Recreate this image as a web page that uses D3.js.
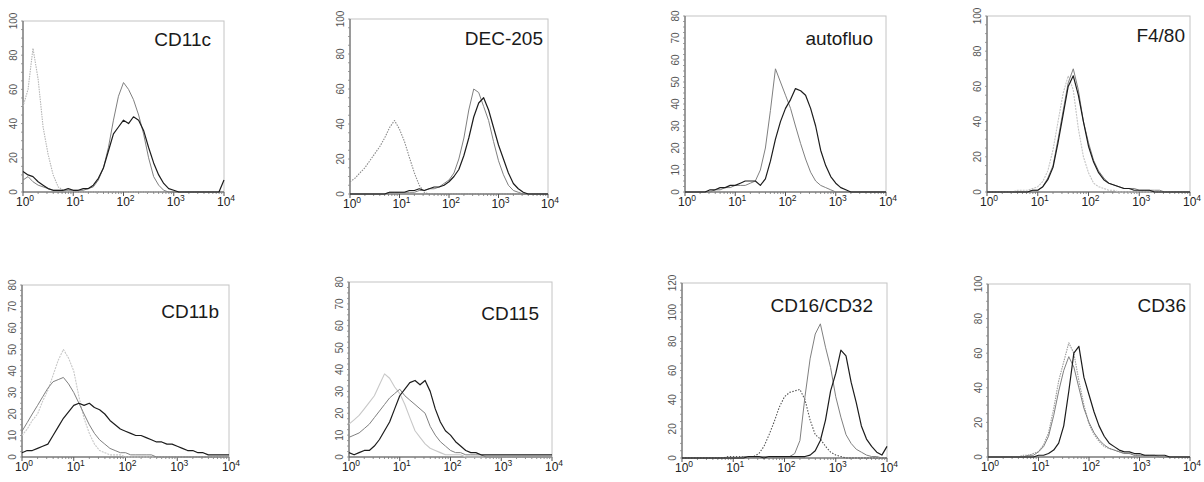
<!DOCTYPE html>
<html lang="en">
<head>
<meta charset="UTF-8">
<title>Flow cytometry histograms</title>
<script src="https://cdn.jsdelivr.net/npm/d3@7"></script>
<style>
  body { margin: 0; background: #fff; }
  svg { display: block; font-family: "Liberation Sans", Arial, sans-serif; }
</style>
</head>
<body>
<svg id="chart" width="1204" height="482"></svg>
<script>
// fluorescence channels, 10 per decade (10^0 .. 10^4)
var channels = [1, 1.26, 1.58, 2.00, 2.51, 3.16, 3.98, 5.01, 6.31, 7.94,
    10, 12.6, 15.8, 20.0, 25.1, 31.6, 39.8, 50.1, 63.1, 79.4,
    100, 126, 158, 200, 251, 316, 398, 501, 631, 794,
    1000, 1259, 1585, 1995, 2512, 3162, 3981, 5012, 6310, 7943, 10000];

var markers = ["CD11c", "DEC-205", "autofluo", "F4/80", "CD11b", "CD115", "CD16/CD32", "CD36"];
var yMax = [100, 100, 80, 100, 80, 80, 120, 100];
var yStep = [20, 20, 10, 20, 10, 10, 20, 20];
var xTickExp = [0, 1, 2, 3, 4];

// counts per channel: control (dotted/light), grey, black
var cd11cCtrl = [50,60,84,66,38,22,10,3,1,0, 0,0,0,0,0,0,0,0,0,0, 0,0,0,0,0,0,0,0,0,0, 0,0,0,0,0,0,0,0,0,0,0];
var cd11cGrey = [7,9,6,4,3,2,1,1,1,1, 1,1,1,2,3,7,14,26,42,56, 64,60,54,45,34,20,9,4,1,0, 0,0,0,0,0,0,0,0,0,0,0];
var cd11cDark = [12,10,9,6,4,2,1,1,1,2, 1,1,2,2,4,8,14,24,34,38, 42,40,44,42,36,26,17,10,5,2, 1,0,0,0,0,0,0,0,0,0,7];

var decCtrl = [7,9,12,15,19,23,27,32,38,42, 37,30,21,12,5,1,0,0,0,0, 0,0,0,0,0,0,0,0,0,0, 0,0,0,0,0,0,0,0,0,0,0];
var decGrey = [0,0,0,0,0,0,0,0,1,1, 1,1,1,1,2,2,3,3,4,6, 8,12,20,32,48,60,58,50,42,30, 19,11,5,2,1,0,0,0,0,0,0];
var decDark = [0,0,0,0,0,0,0,0,1,1, 1,1,2,2,3,2,3,4,4,5, 7,10,14,22,32,44,52,55,48,38, 28,20,12,6,3,1,0,0,0,0,0];

var autoGrey = [0,0,0,0,0,0,1,1,2,2, 3,3,3,4,5,10,20,37,56,50, 44,38,30,22,15,9,5,3,2,1, 0,0,0,0,0,0,0,0,0,0,0];
var autoDark = [0,0,0,0,0,1,1,2,2,3, 3,4,5,5,5,3,6,14,24,32, 38,42,47,46,44,38,30,19,12,7, 4,2,1,0,0,0,0,0,0,0,0];

var f480Ctrl = [0,0,0,0,0,0,1,1,1,2, 3,6,12,24,40,56,66,58,36,20, 11,5,3,2,1,1,0,0,0,0, 0,0,0,0,0,0,0,0,0,0,0];
var f480Grey = [0,0,0,0,0,0,0,0,0,1, 1,3,8,15,30,46,62,70,58,40, 28,18,12,8,5,4,3,2,2,2, 1,1,1,1,1,0,0,0,0,0,0];
var f480Dark = [0,0,0,0,0,0,0,0,0,1, 1,3,7,14,28,44,60,66,55,40, 26,17,11,7,5,4,3,2,2,1, 1,1,1,0,0,0,0,0,0,0,0];

var cd11bCtrl = [10,13,17,20,26,31,38,45,50,46, 40,28,18,11,6,3,2,1,1,1, 0,0,0,0,0,0,0,0,0,0, 0,0,0,0,0,0,0,0,0,0,0];
var cd11bGrey = [12,16,20,24,28,32,35,36,37,34, 30,25,20,15,11,8,6,4,3,2, 2,1,1,1,1,1,0,0,0,0, 0,0,0,0,0,0,0,0,0,0,0];
var cd11bDark = [2,3,3,4,5,6,10,14,18,21, 24,25,24,25,23,22,20,17,15,13, 12,11,10,10,9,8,7,7,6,6, 5,4,3,3,2,2,1,1,1,1,1];

var cd115Ctrl = [15,17,19,22,25,28,33,38,36,32, 29,24,18,12,9,6,4,3,2,1, 1,1,1,0,0,0,0,0,0,0, 0,0,0,0,0,0,0,0,0,0,0];
var cd115Grey = [9,10,11,13,15,18,21,24,27,29, 31,28,26,24,22,20,14,10,7,5, 3,2,2,1,1,1,1,0,0,0, 0,0,0,0,0,0,0,0,0,0,0];
var cd115Dark = [2,1,2,3,3,5,8,12,16,22, 28,31,34,35,33,35,30,22,16,12, 10,7,5,3,2,2,1,1,1,1, 1,1,1,1,1,1,1,1,1,1,1];

var cd16Ctrl = [0,0,0,0,0,0,0,0,0,1, 1,1,1,1,1,3,8,16,25,35, 42,45,46,47,40,26,16,13,8,4, 2,1,0,0,0,0,0,0,0,0,0];
var cd16Grey = [0,0,0,0,0,0,0,0,0,0, 0,0,1,1,1,1,1,1,1,1, 1,1,3,12,42,68,85,92,76,62, 42,28,16,10,6,4,2,1,1,0,0];
var cd16Dark = [0,0,0,0,0,0,0,0,0,0, 0,0,0,1,1,1,0,1,1,1, 1,1,1,1,1,2,5,12,26,46, 58,74,70,52,38,22,13,8,4,2,8];

var cd36Ctrl = [0,0,0,0,0,0,0,1,1,2, 3,7,14,28,44,55,66,60,44,30, 19,13,9,6,5,4,3,2,2,1, 1,1,0,0,0,0,0,0,0,0,0];
var cd36Grey = [0,0,0,0,0,0,0,0,1,1, 3,6,12,24,38,50,58,52,40,28, 20,14,10,7,5,4,3,2,2,1, 1,1,1,1,0,0,0,0,0,0,0];
var cd36Dark = [0,0,0,0,0,0,0,0,0,0, 1,1,2,4,8,18,38,60,64,46, 36,26,18,12,8,6,4,3,3,2, 2,1,1,1,1,1,0,0,0,0,0];

var panelSeries = [
    [cd11cCtrl, cd11cGrey, cd11cDark],
    [decCtrl, decGrey, decDark],
    [null, autoGrey, autoDark],
    [f480Ctrl, f480Grey, f480Dark],
    [cd11bCtrl, cd11bGrey, cd11bDark],
    [cd115Ctrl, cd115Grey, cd115Dark],
    [cd16Ctrl, cd16Grey, cd16Dark],
    [cd36Ctrl, cd36Grey, cd36Dark]
];

// plot boxes and title anchors (px)
var layout = [
    { l: 23, r: 224, t: 21, b: 192, tx: 211, ty: 46 },
    { l: 350, r: 548, t: 19, b: 194, tx: 543, ty: 45 },
    { l: 685, r: 886, t: 16, b: 192, tx: 873, ty: 45 },
    { l: 987, r: 1190, t: 16, b: 192, tx: 1185, ty: 42 },
    { l: 22, r: 229, t: 285, b: 457, tx: 219, ty: 318 },
    { l: 349, r: 552, t: 282, b: 457, tx: 539, ty: 320 },
    { l: 682, r: 887, t: 283, b: 458, tx: 873, ty: 312 },
    { l: 988, r: 1190, t: 284, b: 457, tx: 1186, ty: 312 }
];

// control curve colour per panel
var ctrlColor = ["#b5b5b5", "#8a8a8a", null, "#c4c4c4", "#c8c8c8", "#c8c8c8", "#555", "#9a9a9a"];
var ctrlDash = ["1.5,1", "1.5,1.2", null, "2,1", "2,1", null, "1.5,1.5", "1.5,1"];

var svg = d3.select("#chart");

panelSeries.forEach(function (series, i) {
    var box = layout[i];
    var x = d3.scaleLog().domain([1, 10000]).range([box.l, box.r]);
    var y = d3.scaleLinear().domain([0, yMax[i]]).range([box.b, box.t]);
    var g = svg.append("g");

    // frame
    g.append("rect")
        .attr("x", box.l).attr("y", box.t)
        .attr("width", box.r - box.l).attr("height", box.b - box.t)
        .attr("fill", "none").attr("stroke", "#c4c4c4").attr("stroke-width", 1);

    // x axis
    var xMinor = [];
    for (var e = 0; e < 4; e++) {
        for (var m = 2; m < 10; m++) xMinor.push(m * Math.pow(10, e));
    }
    g.append("line")
        .attr("x1", box.l).attr("x2", box.r).attr("y1", box.b).attr("y2", box.b)
        .attr("stroke", "#555").attr("stroke-width", 1);
    g.selectAll(".xmin").data(xMinor).enter().append("line")
        .attr("x1", function (d) { return x(d); }).attr("x2", function (d) { return x(d); })
        .attr("y1", box.b).attr("y2", box.b + 2)
        .attr("stroke", "#777").attr("stroke-width", 0.8);
    g.selectAll(".xmaj").data(xTickExp).enter().append("line")
        .attr("x1", function (d) { return x(Math.pow(10, d)); })
        .attr("x2", function (d) { return x(Math.pow(10, d)); })
        .attr("y1", box.b).attr("y2", box.b + 4)
        .attr("stroke", "#555").attr("stroke-width", 1);
    var xl = g.selectAll(".xlab").data(xTickExp).enter().append("text")
        .attr("x", function (d) { return x(Math.pow(10, d)) + 2; })
        .attr("y", box.b + 14)
        .attr("text-anchor", "middle")
        .attr("font-size", 12).attr("fill", "#222");
    xl.append("tspan").text("10");
    xl.append("tspan").attr("dy", -5).attr("font-size", 8.5).text(function (d) { return d; });

    // y axis
    var yTicks = d3.range(0, yMax[i] + 0.01, yStep[i]);
    var yMinor = d3.range(0, yMax[i] + 0.01, yStep[i] / 4);
    g.append("line")
        .attr("x1", box.l).attr("x2", box.l).attr("y1", box.t).attr("y2", box.b)
        .attr("stroke", "#555").attr("stroke-width", 1);
    g.selectAll(".ymin").data(yMinor).enter().append("line")
        .attr("x1", box.l - 2).attr("x2", box.l)
        .attr("y1", function (d) { return y(d); }).attr("y2", function (d) { return y(d); })
        .attr("stroke", "#888").attr("stroke-width", 0.8);
    g.selectAll(".ylab").data(yTicks).enter().append("text")
        .attr("transform", function (d) { return "translate(" + (box.l - 6) + "," + y(d) + ") rotate(-90)"; })
        .attr("text-anchor", "middle")
        .attr("font-size", 10).attr("fill", "#555")
        .text(function (d) { return d; });

    // histograms
    var line = d3.line()
        .x(function (d, k) { return x(channels[k]); })
        .y(function (d) { return y(d); });
    var styles = [
        { c: ctrlColor[i], w: 1.1, dash: ctrlDash[i] },
        { c: "#808080", w: 1, dash: null },
        { c: "#1c1c1c", w: 1.2, dash: null }
    ];
    series.forEach(function (vals, s) {
        if (!vals) return;
        g.append("path")
            .datum(vals)
            .attr("d", line)
            .attr("fill", "none")
            .attr("stroke", styles[s].c)
            .attr("stroke-width", styles[s].w)
            .attr("stroke-linejoin", "round")
            .attr("stroke-dasharray", styles[s].dash);
    });

    // marker name
    g.append("text")
        .attr("x", box.tx).attr("y", box.ty)
        .attr("text-anchor", "end")
        .attr("font-size", 19).attr("fill", "#1a1a1a")
        .text(markers[i]);
});
</script>
</body>
</html>
